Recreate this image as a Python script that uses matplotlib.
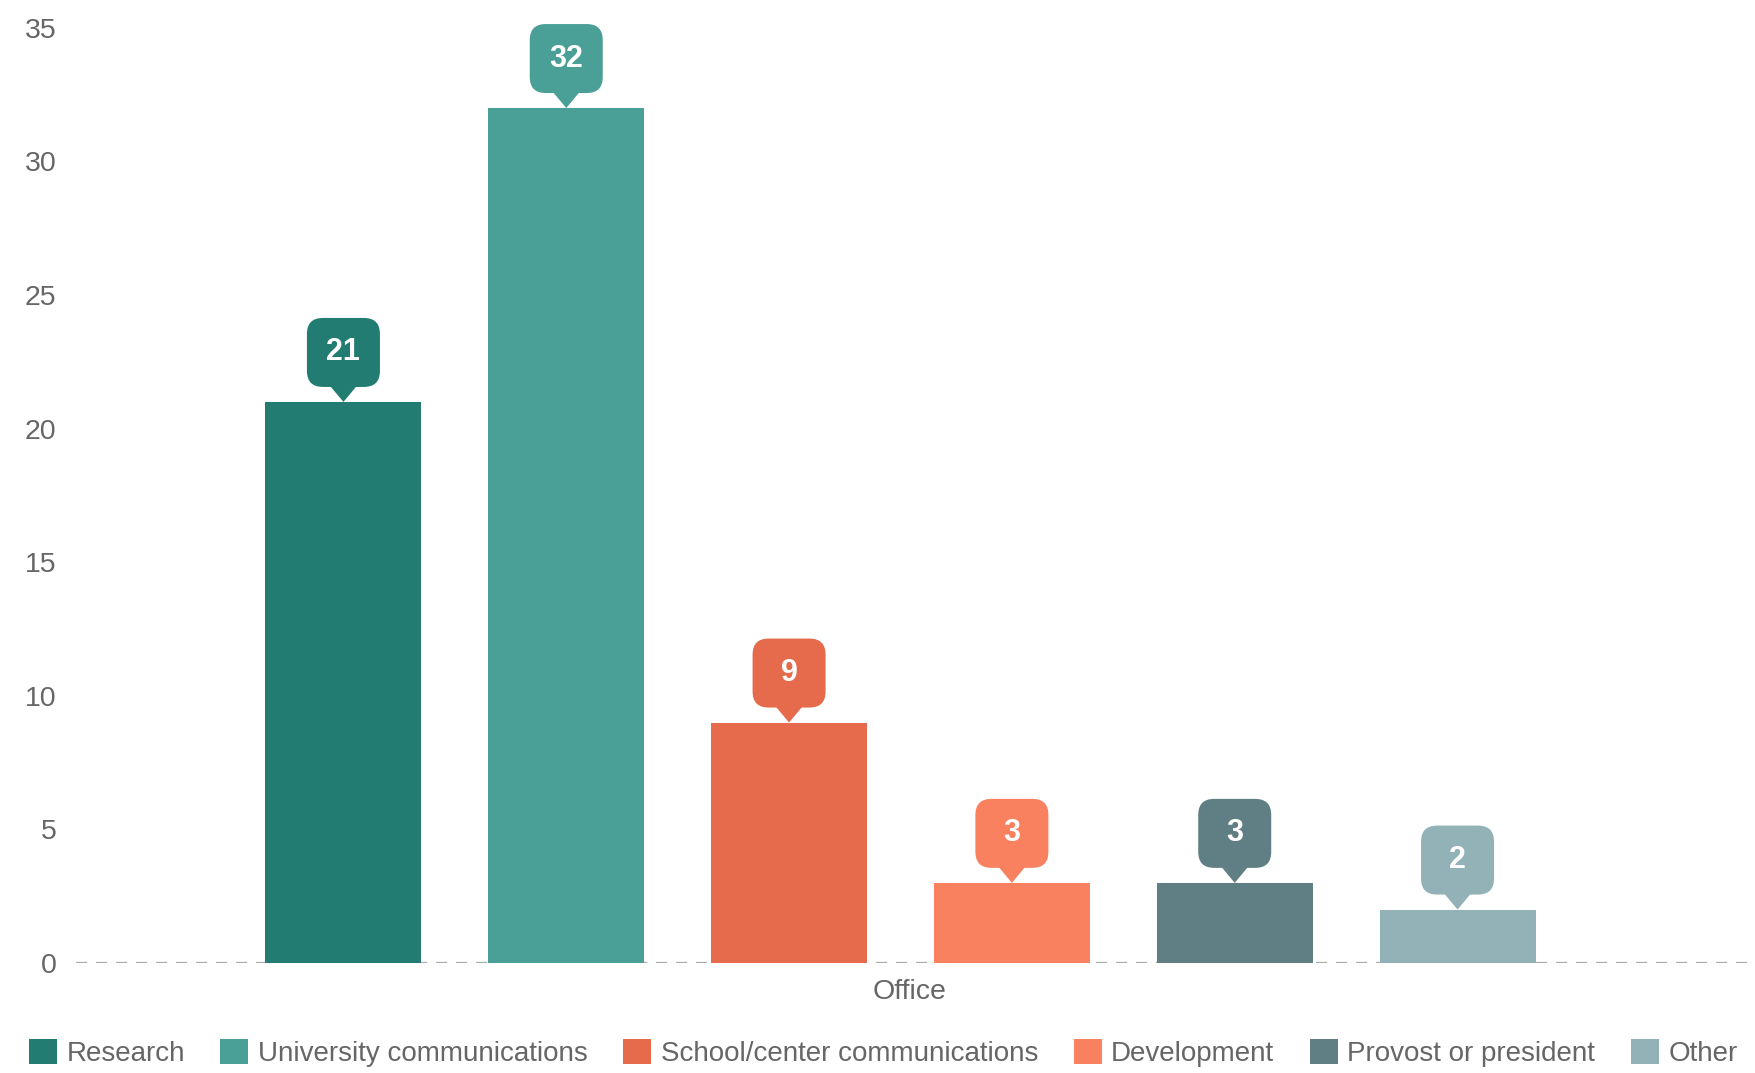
import matplotlib.pyplot as plt
from matplotlib.patches import FancyBboxPatch, Polygon, Patch
from matplotlib.transforms import ScaledTranslation

plt.rcParams['font.family'] = ['Liberation Sans', 'DejaVu Sans']

offices = ['Research', 'University communications', 'School/center communications',
           'Development', 'Provost or president', 'Other']
counts = [21, 32, 9, 3, 3, 2]
colors = ['#237c71', '#4aa096', '#e66b4c', '#f9815f', '#607f84', '#93b2b7']
yticks = [0, 5, 10, 15, 20, 25, 30, 35]

fig = plt.figure(figsize=(17.56, 10.73), dpi=100)
ax = fig.add_axes([0.0433, 0.1025, 0.9517, 0.8715])

xs = list(range(len(offices)))
ax.bar(xs, counts, width=0.7, color=colors, zorder=2)
ax.axhline(0, color='#aaaaaa', lw=1.6, ls=(0, (5, 4)), zorder=1)

ax.set_xlim(-1.2, 6.3)
ax.set_ylim(0, 35)
ax.set_yticks(yticks)
ax.set_yticklabels([str(t) for t in yticks], fontsize=20.5, color='#666666')
ax.tick_params(axis='y', length=0, pad=14)
ax.set_xticks([])
for s in ax.spines.values():
    s.set_visible(False)

# callout badges above each bar (sizes in inches, anchored at bar top)
w, h, tip, tw, r = 0.73, 0.69, 0.15, 0.30, 0.16
for x, v, c in zip(xs, counts, colors):
    trans = fig.dpi_scale_trans + ScaledTranslation(x, v, ax.transData)
    box = FancyBboxPatch((-w / 2 + r, tip + r), w - 2 * r, h - 2 * r,
                         boxstyle=f'round,pad={r}', transform=trans,
                         facecolor=c, edgecolor='none', clip_on=False, zorder=3)
    ax.add_patch(box)
    tri = Polygon([(-tw / 2, tip + 0.03), (tw / 2, tip + 0.03), (0, 0)], closed=True,
                  transform=trans, facecolor=c, edgecolor='none', clip_on=False, zorder=3)
    ax.add_patch(tri)
    ax.text(0, tip + h / 2, str(v), transform=trans, ha='center', va='center',
            fontsize=22, fontweight='bold', color='white', zorder=4)

fig.text(0.518, 0.0755, 'Office', ha='center', va='center', fontsize=20.5, color='#666666')

handles = [Patch(facecolor=c, edgecolor='none') for c in colors]
fig.legend(handles, offices, loc='center', bbox_to_anchor=(0.503, 0.0186), ncol=6,
           frameon=False, fontsize=20, labelcolor='#666666', handlelength=1.0,
           handleheight=1.0, handletextpad=0.35, columnspacing=1.28, borderaxespad=0)

fig.savefig('out.png', dpi=100)
